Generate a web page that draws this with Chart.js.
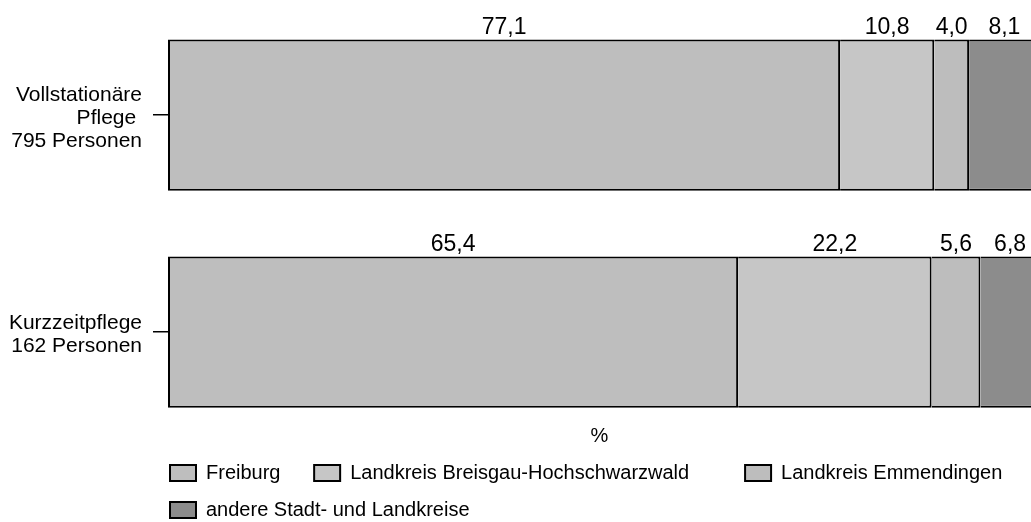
<!DOCTYPE html>
<html>
<head>
<meta charset="utf-8">
<script src="https://cdn.jsdelivr.net/npm/chart.js@4"></script>
<style>
    html, body { margin: 0; padding: 0; background: #fff; }
    #wrap { width: 1031px; height: 522px; position: relative; }
</style>
</head>
<body>
<div id="wrap"><canvas id="pflegeChart"></canvas></div>
<script>
// Herkunft der Pflegebedürftigen, Anteile in %
const categories = [
    ['Vollstationäre', 'Pflege ', '795 Personen'],
    ['Kurzzeitpflege', '162 Personen']
];
const seriesNames = ['Freiburg', 'Landkreis Breisgau-Hochschwarzwald', 'Landkreis Emmendingen', 'andere Stadt- und Landkreise'];
const freiburg = [77.1, 65.4];
const breisgau = [10.8, 22.2];
const emmendingen = [4.0, 5.6];
const andere = [8.1, 6.8];

const seriesValues = [freiburg, breisgau, emmendingen, andere];
const fills = ['#bebebe', '#c6c6c6', '#bdbdbd', '#8c8c8c'];

Chart.defaults.font.family = "'Liberation Sans', Arial, sans-serif";
Chart.defaults.color = '#000';

const datasets = seriesNames.map((name, s) => ({
    label: name,
    data: seriesValues[s].map((v, i) => ({ x: v, y: i })),
    backgroundColor: fills[s],
    borderColor: '#000',
    borderWidth: 2,
    borderSkipped: s === 0 ? false : 'left'
}));

// numbers above each segment, German decimal comma
const valueLabels = {
    id: 'valueLabels',
    afterDatasetsDraw(chart) {
        const ctx = chart.ctx;
        ctx.save();
        ctx.font = "23px 'Liberation Sans', Arial, sans-serif";
        ctx.fillStyle = '#000';
        ctx.textAlign = 'center';
        ctx.textBaseline = 'middle';
        chart.data.datasets.forEach((ds, d) => {
            chart.getDatasetMeta(d).data.forEach((bar, i) => {
                const p = bar.getProps(['x', 'y', 'base', 'height'], true);
                const top = p.y - p.height / 2;
                ctx.fillText(ds.data[i].x.toFixed(1).replace('.', ','), (p.x + p.base) / 2, top - 12);
            });
        });
        ctx.restore();
    }
};

// legend in the original starts under the bars, not at the page edge
const legendShift = {
    id: 'legendShift',
    afterLayout(chart) {
        chart.legend.left = 153;
    }
};

const ctx = document.getElementById('pflegeChart').getContext('2d');
const pflegeChart = new Chart(ctx, {
    type: 'bar',
    data: { datasets: datasets },
    plugins: [valueLabels, legendShift],
    options: {
        indexAxis: 'y',
        responsive: true,
        maintainAspectRatio: false,
        animation: false,
        layout: { padding: { left: 0, right: 0, top: 0, bottom: -8 } },
        datasets: {
            bar: { barPercentage: 0.697, categoryPercentage: 1 }
        },
        scales: {
            x: {
                type: 'linear',
                stacked: true,
                min: 0,
                max: 99,
                ticks: { display: false },
                grid: { display: false, drawTicks: false },
                border: { display: false },
                title: {
                    display: true,
                    text: '%',
                    color: '#000',
                    font: { size: 20, lineHeight: 1 },
                    padding: { top: 0, bottom: 0 }
                }
            },
            y: {
                type: 'linear',
                stacked: true,
                reverse: true,
                offset: false,
                min: -0.53,
                max: 1.433,
                afterBuildTicks: scale => {
                    scale.ticks = categories.map((c, i) => ({ value: i }));
                },
                afterFit: scale => {
                    scale.width = 168;
                    scale.paddingTop = 0;
                    scale.paddingBottom = 0;
                },
                ticks: {
                    callback: v => categories[v],
                    color: '#000',
                    padding: 11,
                    labelOffset: 3,
                    autoSkip: false,
                    font: { size: 21, lineHeight: 1.1 }
                },
                grid: {
                    drawOnChartArea: false,
                    drawTicks: true,
                    tickLength: 15,
                    color: '#000',
                    lineWidth: 1.5,
                    offset: false
                },
                border: { display: false }
            }
        },
        plugins: {
            tooltip: { enabled: false },
            legend: {
                position: 'bottom',
                align: 'start',
                labels: {
                    boxWidth: 26,
                    boxHeight: 16,
                    padding: 17,
                    color: '#000',
                    font: { size: 20 },
                    generateLabels: chart => {
                        const items = Chart.defaults.plugins.legend.labels.generateLabels(chart);
                        // wider gaps after the first two entries, as in the original legend
                        items[0].text += '   ';
                        items[1].text += '       ';
                        return items;
                    }
                }
            }
        }
    }
});
</script>
</body>
</html>
